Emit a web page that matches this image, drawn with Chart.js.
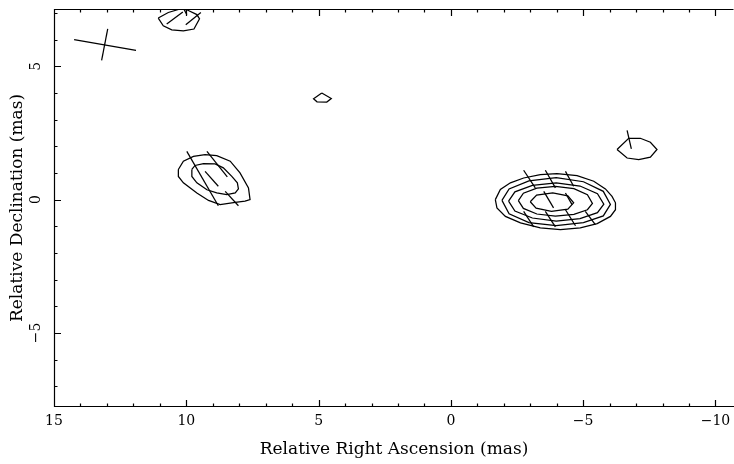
<!DOCTYPE html>
<html>
<head>
<meta charset="utf-8">
<script src="https://cdn.jsdelivr.net/npm/chart.js@4"></script>
<style>
    html, body { margin: 0; padding: 0; background: #fff; }
    canvas { display: block; }
</style>
</head>
<body>
<canvas id="mapChart" width="734" height="464"></canvas>
<script>
// Contours and polarization sticks, points are [RA offset, Dec offset] in mas
const northContour = [[11.06, 6.81], [10.68, 7.02], [10.23, 7.15], [9.98, 7.12], [9.60, 6.94], [9.50, 6.78],
    [9.71, 6.40], [10.11, 6.33], [10.55, 6.37], [10.87, 6.52], [11.06, 6.81]];
const knotContour = [[4.88, 4.00], [4.52, 3.79], [4.69, 3.66], [5.06, 3.67], [5.19, 3.78], [4.88, 4.00]];
const jetOuter = [[10.30, 1.13], [10.11, 1.44], [9.73, 1.62], [9.29, 1.69], [8.85, 1.65], [8.34, 1.44],
    [7.97, 1.00], [7.65, 0.44], [7.59, 0.00], [7.78, -0.06], [8.15, -0.10], [8.72, -0.19], [9.16, -0.03],
    [9.60, 0.25], [10.11, 0.63], [10.30, 0.87], [10.30, 1.13]];
const jetInner = [[9.79, 1.13], [9.67, 1.28], [9.35, 1.35], [8.91, 1.34], [8.60, 1.19], [8.28, 0.87],
    [8.07, 0.63], [8.03, 0.40], [8.15, 0.25], [8.47, 0.19], [8.85, 0.25], [9.22, 0.37], [9.60, 0.63],
    [9.79, 0.87], [9.79, 1.13]];
const core1 = [[-1.68, 0.00], [-1.87, 0.38], [-2.25, 0.63], [-2.75, 0.81], [-3.38, 0.94], [-4.01, 0.97],
    [-4.77, 0.90], [-5.40, 0.69], [-5.84, 0.40], [-6.09, 0.12], [-6.22, -0.12], [-6.22, -0.38], [-6.03, -0.63],
    [-5.53, -0.90], [-4.89, -1.06], [-4.14, -1.13], [-3.38, -1.06], [-2.63, -0.87], [-2.06, -0.63],
    [-1.74, -0.31], [-1.68, 0.00]];
const core2 = [[-1.93, -0.03], [-2.20, 0.40], [-2.95, 0.70], [-3.98, 0.82], [-5.01, 0.67], [-5.76, 0.31],
    [-6.03, -0.18], [-5.76, -0.61], [-5.01, -0.86], [-3.98, -0.98], [-2.95, -0.86], [-2.20, -0.53], [-1.93, -0.03]];
const core3 = [[-2.18, -0.06], [-2.42, 0.29], [-3.08, 0.53], [-3.98, 0.63], [-4.88, 0.51], [-5.54, 0.22],
    [-5.78, -0.17], [-5.54, -0.49], [-4.88, -0.71], [-3.98, -0.81], [-3.08, -0.69], [-2.42, -0.43], [-2.18, -0.06]];
const core4 = [[-2.55, -0.04], [-2.74, 0.24], [-3.25, 0.43], [-3.95, 0.50], [-4.65, 0.41], [-5.16, 0.18],
    [-5.35, -0.14], [-5.16, -0.38], [-4.65, -0.55], [-3.95, -0.62], [-3.25, -0.54], [-2.74, -0.33], [-2.55, -0.04]];
const core5 = [[-3.00, -0.08], [-3.24, 0.17], [-3.85, 0.25], [-4.42, 0.14], [-4.64, -0.12], [-4.42, -0.36],
    [-3.80, -0.44], [-3.22, -0.32], [-3.00, -0.08]];
const eastContour = [[-6.28, 1.88], [-6.72, 2.30], [-7.16, 2.30], [-7.54, 2.15], [-7.79, 1.88], [-7.54, 1.59],
    [-7.10, 1.50], [-6.66, 1.56], [-6.28, 1.88]];

// sticks: [x1, y1, x2, y2]
const beamCross = [[14.24, 6.00, 11.90, 5.60], [12.97, 6.40, 13.20, 5.22]];
const northSticks = [[10.74, 6.59, 10.13, 7.04], [10.02, 6.56, 9.45, 7.02], [10.08, 7.12, 9.98, 6.94]];
const jetSticks = [[9.98, 1.81, 8.79, -0.23], [9.22, 1.81, 8.45, 0.85], [8.53, 0.31, 8.03, -0.23], [9.29, 1.06, 8.79, 0.50]];
const coreSticks = [[-2.75, 1.10, -3.19, 0.44], [-3.57, 1.10, -3.95, 0.44], [-4.33, 1.06, -4.64, 0.50],
    [-3.51, 0.31, -3.88, -0.31], [-4.33, 0.25, -4.58, -0.19],
    [-2.75, -0.44, -3.13, -1.02], [-3.57, -0.44, -3.95, -1.02], [-4.33, -0.38, -4.71, -0.98], [-5.08, -0.44, -5.46, -0.94]];
const eastSticks = [[-6.66, 2.60, -6.82, 1.90]];

const xTicks = [15, 10, 5, 0, -5, -10];
const yTicks = [-5, 0, 5];

const fontName = '"DejaVu Serif", "Liberation Serif", serif';

function lineSet(points) {
    return {
        data: points.map(p => ({ x: p[0], y: p[1] })),
        showLine: true,
        borderColor: '#000',
        borderWidth: 1.25,
        pointRadius: 0,
        fill: false,
        tension: 0
    };
}

let datasets = [];
[northContour, knotContour, jetOuter, jetInner, core1, core2, core3, core4, core5, eastContour]
    .forEach(c => datasets.push(lineSet(c)));
[beamCross, northSticks, jetSticks, coreSticks, eastSticks].forEach(group => {
    group.forEach(s => datasets.push(lineSet([[s[0], s[1]], [s[2], s[3]]])));
});

// frame with inward ticks, PGPLOT style
const framePlugin = {
    id: 'frame',
    afterDraw(chart) {
        const ctx = chart.ctx;
        const a = chart.chartArea;
        const xs = chart.scales.x, ys = chart.scales.y;
        ctx.save();
        ctx.strokeStyle = '#000';
        ctx.lineWidth = 1.2;
        ctx.beginPath();
        ctx.moveTo(a.left + 0.5, a.top + 0.5);
        ctx.lineTo(a.right - 0.5, a.top + 0.5);
        ctx.moveTo(a.left + 0.5, a.top);
        ctx.lineTo(a.left + 0.5, a.bottom);
        ctx.moveTo(a.left, a.bottom - 0.5);
        ctx.lineTo(a.right, a.bottom - 0.5);

        for (let v = -10; v <= 15; v++) {
            const px = Math.round(xs.getPixelForValue(v)) + 0.5;
            const len = (v % 5 === 0) ? 7 : 3.5;
            ctx.moveTo(px, a.bottom);
            ctx.lineTo(px, a.bottom - len);
            ctx.moveTo(px, a.top);
            ctx.lineTo(px, a.top + len);
        }
        for (let v = -7; v <= 7; v++) {
            const py = Math.round(ys.getPixelForValue(v)) + 0.5;
            const len = (v % 5 === 0) ? 7 : 3.5;
            ctx.moveTo(a.left, py);
            ctx.lineTo(a.left + len, py);
        }
        ctx.stroke();

        ctx.fillStyle = '#000';
        ctx.font = '14px ' + fontName;
        ctx.textAlign = 'center';
        ctx.textBaseline = 'middle';
        xTicks.forEach(v => {
            ctx.fillText(String(v).replace('-', '\u2212'), xs.getPixelForValue(v), 421);
        });
        yTicks.forEach(v => {
            ctx.save();
            ctx.translate(36, ys.getPixelForValue(v));
            ctx.rotate(-Math.PI / 2);
            ctx.fillText(String(v).replace('-', '\u2212'), 0, 0);
            ctx.restore();
        });

        ctx.font = '17px ' + fontName;
        ctx.fillText('Relative Right Ascension (mas)', (a.left + a.right) / 2, 450);
        ctx.save();
        ctx.translate(18, (a.top + a.bottom) / 2);
        ctx.rotate(-Math.PI / 2);
        ctx.fillText('Relative Declination (mas)', 0, 0);
        ctx.restore();
        ctx.restore();
    }
};

let ctx = document.getElementById('mapChart').getContext('2d');

let mapChart = new Chart(ctx, {
    type: 'scatter',
    data: { datasets: datasets },
    options: {
        responsive: false,
        animation: false,
        layout: { padding: { top: 9, right: 0, left: 0, bottom: 0 } },
        plugins: {
            legend: { display: false },
            tooltip: { enabled: false }
        },
        scales: {
            x: {
                type: 'linear',
                min: -10.7,
                max: 15,
                reverse: true,
                grid: { display: false },
                border: { display: false },
                ticks: { display: false },
                afterFit: (scale) => { scale.height = 57; }
            },
            y: {
                type: 'linear',
                min: -7.78,
                max: 7.15,
                grid: { display: false },
                border: { display: false },
                ticks: { display: false },
                afterFit: (scale) => { scale.width = 54; }
            }
        }
    },
    plugins: [framePlugin]
});
</script>
</body>
</html>
